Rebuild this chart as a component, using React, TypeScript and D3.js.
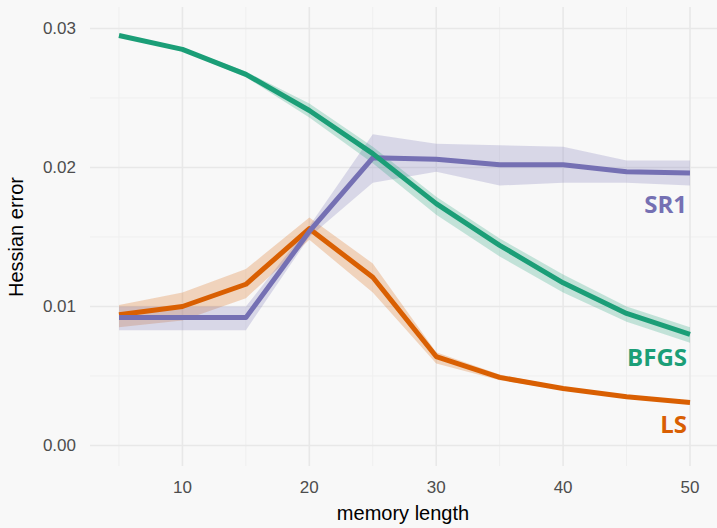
import * as d3 from "d3";
import React from "react";

// memory length
const memory = [5, 10, 15, 20, 25, 30, 35, 40, 45, 50];

// Hessian error, mean and ribbon bounds per method
const bfgsMean = [0.0295, 0.0285, 0.0267, 0.0241, 0.021, 0.0174, 0.0144, 0.0117, 0.0095, 0.008];
const bfgsLow = [0.0294, 0.0284, 0.0265, 0.0236, 0.0203, 0.0166, 0.0136, 0.011, 0.0089, 0.0074];
const bfgsHigh = [0.0296, 0.0286, 0.0269, 0.0246, 0.0215, 0.0179, 0.0149, 0.0123, 0.01, 0.0085];

const sr1Mean = [0.0092, 0.0092, 0.0092, 0.0154, 0.0207, 0.0206, 0.0202, 0.0202, 0.0197, 0.0196];
const sr1Low = [0.0083, 0.0083, 0.0083, 0.015, 0.0189, 0.0197, 0.0187, 0.0189, 0.0189, 0.0187];
const sr1High = [0.01, 0.01, 0.01, 0.0158, 0.0224, 0.0217, 0.0216, 0.0215, 0.0205, 0.0205];

const lsMean = [0.0094, 0.01, 0.0116, 0.0156, 0.0121, 0.0064, 0.0049, 0.0041, 0.0035, 0.0031];
const lsLow = [0.0085, 0.009, 0.0106, 0.0148, 0.011, 0.0059, 0.0047, 0.004, 0.0034, 0.003];
const lsHigh = [0.0101, 0.011, 0.0127, 0.0164, 0.0131, 0.0067, 0.0051, 0.0042, 0.0036, 0.0032];

const xTicks = [10, 20, 30, 40, 50];
const xMinor = [5, 15, 25, 35, 45];
const yTicks = [0, 0.01, 0.02, 0.03];
const yMinor = [0.005, 0.015, 0.025];

const series = [
  { name: "LS", color: "#d95f02", mean: lsMean, low: lsLow, high: lsHigh },
  { name: "SR1", color: "#7570b3", mean: sr1Mean, low: sr1Low, high: sr1High },
  { name: "BFGS", color: "#1b9e77", mean: bfgsMean, low: bfgsLow, high: bfgsHigh },
];

export default function App() {
  const W = 717;
  const H = 528;
  const panel = { left: 90, right: 717, top: 7, bottom: 466 };

  const x = d3.scaleLinear().domain([5, 50]).range([119, 690]);
  const y = d3.scaleLinear().domain([0, 0.03]).range([445.5, 28.5]);

  const line = d3
    .line<number>()
    .x((_, i) => x(memory[i]))
    .y((d) => y(d));

  const ribbon = (low: number[], high: number[]) =>
    d3
      .area<number>()
      .x((_, i) => x(memory[i]))
      .y0((_, i) => y(low[i]))
      .y1((_, i) => y(high[i]))(low);

  // label positions: right edge of the lines, below the last point
  const labelY: Record<string, number> = { SR1: 213, BFGS: 366, LS: 433 };

  return (
    <svg
      width={W}
      height={H}
      style={{ position: "absolute", left: 0, top: 0, display: "block" }}
    >
      <rect x={0} y={0} width={W} height={H} fill="#f8f8f8" />

      {/* grille */}
      {yMinor.map((t) => (
        <line key={"ym" + t} x1={panel.left} x2={panel.right} y1={y(t)} y2={y(t)} stroke="#efefef" strokeWidth={1} />
      ))}
      {xMinor.map((t) => (
        <line key={"xm" + t} x1={x(t)} x2={x(t)} y1={panel.top} y2={panel.bottom} stroke="#efefef" strokeWidth={1} />
      ))}
      {yTicks.map((t) => (
        <line key={"y" + t} x1={panel.left} x2={panel.right} y1={y(t)} y2={y(t)} stroke="#e8e8e8" strokeWidth={1.6} />
      ))}
      {xTicks.map((t) => (
        <line key={"x" + t} x1={x(t)} x2={x(t)} y1={panel.top} y2={panel.bottom} stroke="#e8e8e8" strokeWidth={1.6} />
      ))}

      {/* rubans */}
      {series.map((s) => (
        <path key={"r" + s.name} d={ribbon(s.low, s.high) ?? ""} fill={s.color} fillOpacity={0.24} />
      ))}

      {/* lignes */}
      {series.map((s) => (
        <path
          key={"l" + s.name}
          d={line(s.mean) ?? ""}
          fill="none"
          stroke={s.color}
          strokeWidth={5}
          strokeLinejoin="round"
        />
      ))}

      {/* étiquettes des séries */}
      {series.map((s) => (
        <text
          key={"t" + s.name}
          x={x(50) - 3}
          y={labelY[s.name]}
          textAnchor="end"
          fill={s.color}
          fontFamily="'Open Sans', 'Noto Sans', sans-serif"
          fontWeight="bold"
          fontSize={24}
        >
          {s.name}
        </text>
      ))}

      {/* axes */}
      {xTicks.map((t) => (
        <text
          key={"xl" + t}
          x={x(t)}
          y={493}
          textAnchor="middle"
          fill="#4d4d4d"
          fontFamily="'Liberation Sans', Arial, sans-serif"
          fontSize={17}
        >
          {t}
        </text>
      ))}
      {yTicks.map((t) => (
        <text
          key={"yl" + t}
          x={76}
          y={y(t)}
          dy="0.35em"
          textAnchor="end"
          fill="#4d4d4d"
          fontFamily="'Liberation Sans', Arial, sans-serif"
          fontSize={17}
        >
          {d3.format(".2f")(t)}
        </text>
      ))}

      <text
        x={403}
        y={520}
        textAnchor="middle"
        fill="#000"
        fontFamily="'Liberation Sans', Arial, sans-serif"
        fontSize={20}
      >
        memory length
      </text>
      <text
        transform={`translate(23, 237) rotate(-90)`}
        textAnchor="middle"
        fill="#000"
        fontFamily="'Liberation Sans', Arial, sans-serif"
        fontSize={20}
      >
        Hessian error
      </text>
    </svg>
  );
}
